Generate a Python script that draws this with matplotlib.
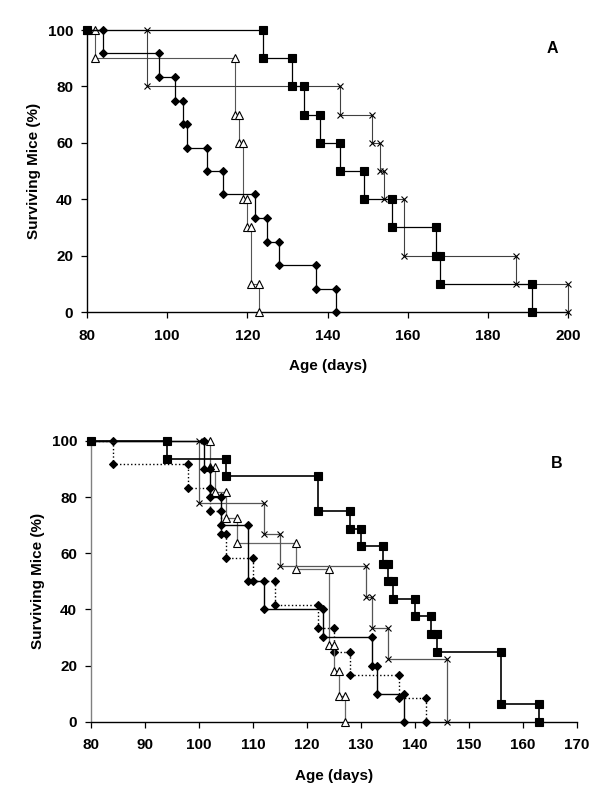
#!/usr/bin/env python3
"""
Kaplan-Meier survival curves of mice, panels A and B (Excel-style step plots)
"""

import matplotlib
matplotlib.use('Agg')
import matplotlib.pyplot as plt

plt.rcParams['font.family'] = ['Liberation Sans', 'DejaVu Sans']
plt.rcParams['font.weight'] = 'bold'

# ---- panel A: day of death and survival (%) after that day ----
a_sq_days = [124, 131, 134, 138, 143, 149, 156, 167, 168, 191]
a_sq_surv = [90, 80, 70, 60, 50, 40, 30, 20, 10, 0]

a_x_days = [95, 143, 151, 153, 154, 159, 187, 200]
a_x_surv = [80, 70, 60, 50, 40, 20, 10, 0]

a_tri_days = [82, 117, 118, 119, 120, 121, 123]
a_tri_surv = [90, 70, 60, 40, 30, 10, 0]

a_dia_days = [84, 98, 102, 104, 105, 110, 114, 122, 125, 128, 137, 142]
a_dia_surv = [91.7, 83.3, 75, 66.7, 58.3, 50, 41.7, 33.3, 25, 16.7, 8.3, 0]

# ---- panel B ----
b_sq_days = [94, 105, 122, 128, 130, 134, 135, 136, 140, 143, 144, 156, 163]
b_sq_surv = [93.75, 87.5, 75, 68.75, 62.5, 56.25, 50, 43.75, 37.5, 31.25, 25, 6.25, 0]

b_x_days = [100, 112, 115, 131, 132, 135, 146]
b_x_surv = [77.8, 66.7, 55.6, 44.4, 33.3, 22.2, 0]

b_tri_days = [102, 103, 105, 107, 118, 124, 125, 126, 127]
b_tri_surv = [90.9, 81.8, 72.7, 63.6, 54.5, 27.3, 18.2, 9.1, 0]

b_dia_days = [101, 102, 104, 109, 112, 123, 132, 133, 138]
b_dia_surv = [90, 80, 70, 50, 40, 30, 20, 10, 0]

b_dot_days = [84, 98, 102, 104, 105, 110, 114, 122, 125, 128, 137, 142]
b_dot_surv = [91.7, 83.3, 75, 66.7, 58.3, 50, 41.7, 33.3, 25, 16.7, 8.3, 0]


def steps(days, surv, start=80):
    """corner points of the step curve, markers on every corner"""
    xs, ys = [start], [100]
    prev = 100
    for d, s in zip(days, surv):
        xs += [d, d]
        ys += [prev, s]
        prev = s
    return xs, ys


def draw(ax, days, surv, marker, ms, color='black', ls='-', lw=0.9,
         mfc='black', z=3):
    xs, ys = steps(days, surv)
    ax.plot(xs, ys, linestyle=ls, color=color, linewidth=lw, marker=marker,
            markersize=ms, markerfacecolor=mfc, markeredgecolor='black',
            markeredgewidth=0.8, clip_on=False, zorder=z)


def style_axes(ax, xmax, xstep, left_color='black'):
    ax.set_xlim(80, xmax)
    ax.set_ylim(0, 100)
    ax.set_xticks(range(80, xmax + 1, xstep))
    ax.set_yticks(range(0, 101, 20))
    for side in ['top', 'right']:
        ax.spines[side].set_visible(False)
    ax.spines['left'].set_color(left_color)
    ax.spines['left'].set_linewidth(1.0)
    ax.spines['bottom'].set_linewidth(1.0)
    ax.tick_params(direction='out', length=4, width=0.9, labelsize=11)
    ax.tick_params(axis='x', pad=8)
    ax.tick_params(axis='y', pad=6)
    for lab in ax.get_xticklabels() + ax.get_yticklabels():
        lab.set_fontweight('bold')
    ax.set_xlabel('Age (days)', fontsize=11, fontweight='bold', labelpad=12)
    ax.set_ylabel('Surviving Mice (%)', fontsize=11, fontweight='bold', labelpad=5)


fig = plt.figure(figsize=(6.0, 8.05), dpi=100)

# panel A
ax1 = fig.add_axes([0.145, 0.6124, 0.802, 0.3503])
draw(ax1, a_tri_days, a_tri_surv, '^', 5.2, color='#555555', lw=0.8, mfc='white', z=3)
draw(ax1, a_x_days, a_x_surv, 'x', 4.2, color='#404040', lw=0.8, z=3)
draw(ax1, a_dia_days, a_dia_surv, 'D', 3.6, z=4)
draw(ax1, a_sq_days, a_sq_surv, 's', 5.3, z=5)
style_axes(ax1, 200, 20)
ax1.text(0.967, 0.936, 'A', transform=ax1.transAxes, fontsize=11.5,
         fontweight='bold', ha='center', va='center')

# panel B
ax2 = fig.add_axes([0.1517, 0.1035, 0.81, 0.3487])
draw(ax2, b_dot_days, b_dot_surv, 'D', 3.9, ls=':', lw=1.0, z=3)
draw(ax2, b_tri_days, b_tri_surv, '^', 5.2, color='#666666', lw=0.9, mfc='white', z=3)
draw(ax2, b_x_days, b_x_surv, 'x', 4.2, color='#555555', lw=0.9, z=3)
draw(ax2, b_dia_days, b_dia_surv, 'D', 3.9, lw=1.0, z=4)
draw(ax2, b_sq_days, b_sq_surv, 's', 5.3, lw=1.2, z=5)
style_axes(ax2, 170, 10, left_color='#808080')
ax2.text(0.959, 0.92, 'B', transform=ax2.transAxes, fontsize=11.5,
         fontweight='bold', ha='center', va='center')

plt.savefig('out.png', dpi=100)
plt.close()
